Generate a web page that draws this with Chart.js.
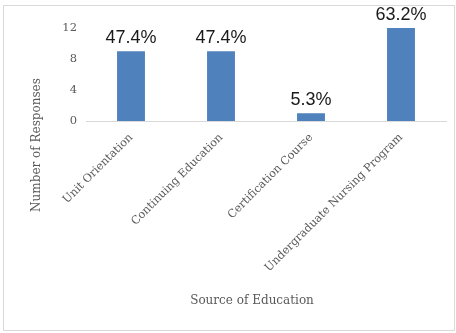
<!DOCTYPE html>
<html>
<head>
<meta charset="utf-8">
<script src="https://cdn.jsdelivr.net/npm/chart.js@4.4.0/dist/chart.umd.min.js"></script>
<style>
html, body { margin: 0; padding: 0; background: #fff; }
#wrap { position: relative; width: 456px; height: 333px; }
</style>
</head>
<body>
<div id="wrap"><canvas id="eduChart"></canvas></div>
<script>
const categories = ['Unit Orientation', 'Continuing Education', 'Certification Course', 'Undergraduate Nursing Program'];
const responses = [9, 9, 1, 12];
const percentLabels = ['47.4%', '47.4%', '5.3%', '63.2%'];
const yMax = 12;
const yStep = 4;
const xTitle = 'Source of Education';
const yTitle = 'Number of Responses';

const SERIF = '"DejaVu Serif", "Liberation Serif", serif';
const GREY = '#595959';

// border, value labels and axis titles
const decorPlugin = {
    id: 'decor',
    beforeDraw(chart) {
        const ctx = chart.ctx;
        ctx.save();
        ctx.strokeStyle = '#d9d9d9';
        ctx.lineWidth = 1;
        ctx.strokeRect(3.5, 5.5, 451, 325);
        ctx.restore();
    },
    afterDatasetsDraw(chart) {
        const ctx = chart.ctx;
        const meta = chart.getDatasetMeta(0);
        ctx.save();
        ctx.font = '18px "Liberation Sans", Arial, sans-serif';
        ctx.fillStyle = '#1a1a1a';
        ctx.textAlign = 'center';
        ctx.textBaseline = 'alphabetic';
        meta.data.forEach((bar, i) => {
            ctx.fillText(percentLabels[i], bar.x, bar.y - 8);
        });

        ctx.font = '12px ' + SERIF;
        ctx.fillStyle = GREY;
        ctx.textBaseline = 'middle';
        ctx.fillText(xTitle, 252, 301);
        ctx.translate(37, 145);
        ctx.rotate(-Math.PI / 2);
        ctx.fillText(yTitle, 0, 0);
        ctx.restore();
    }
};

function initChart() {
    const ctx = document.getElementById('eduChart').getContext('2d');

    new Chart(ctx, {
        type: 'bar',
        data: {
            labels: categories,
            datasets: [{
                label: 'Number of Responses',
                data: responses,
                backgroundColor: '#4f81bd',
                borderWidth: 0,
                categoryPercentage: 1,
                barPercentage: 0.31
            }]
        },
        options: {
            responsive: true,
            maintainAspectRatio: false,
            animation: false,
            layout: {
                padding: { top: 28, right: 10, left: 0, bottom: 0 }
            },
            plugins: {
                legend: { display: false },
                tooltip: { enabled: false }
            },
            scales: {
                x: {
                    grid: { display: false, drawTicks: false },
                    border: { display: true, color: '#d9d9d9', width: 1 },
                    ticks: {
                        minRotation: 45,
                        maxRotation: 45,
                        padding: 10,
                        color: GREY,
                        font: { family: SERIF, size: 11.2 }
                    },
                    afterFit: function(scale) {
                        scale.height = 212;
                    }
                },
                y: {
                    min: 0,
                    max: yMax,
                    grid: { display: false, drawTicks: false },
                    border: { display: false },
                    ticks: {
                        stepSize: yStep,
                        padding: 9,
                        color: GREY,
                        font: { family: SERIF, size: 11.5 }
                    },
                    afterFit: function(scale) {
                        scale.width = 86;
                    }
                }
            }
        },
        plugins: [decorPlugin]
    });
}

document.addEventListener('DOMContentLoaded', () => {
    initChart();
});
</script>
</body>
</html>
